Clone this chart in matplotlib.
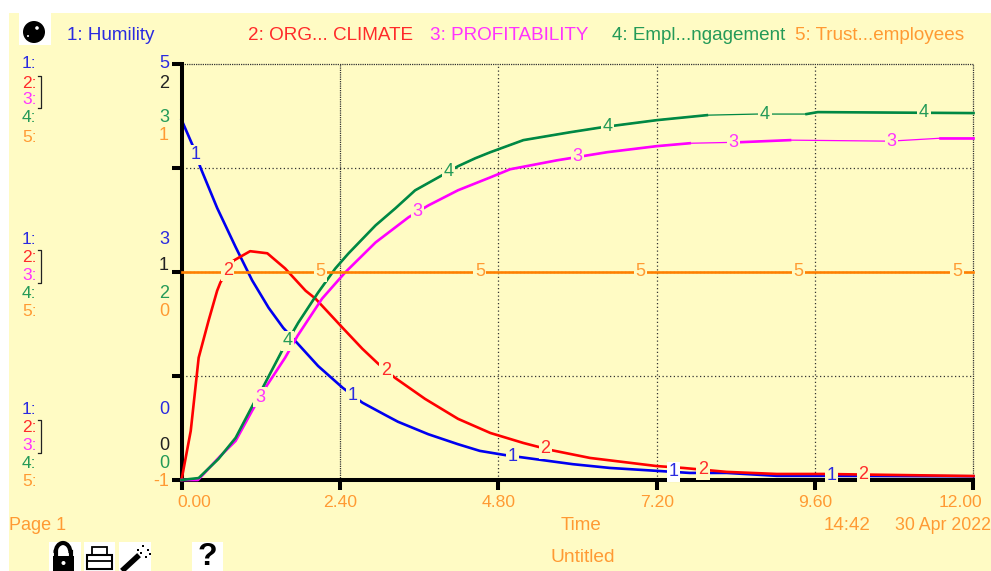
import numpy as np
import matplotlib
matplotlib.use("Agg")
import matplotlib.pyplot as plt
from matplotlib.patches import Rectangle, Circle, Arc
from matplotlib.transforms import ScaledTranslation

plt.rcParams['font.family'] = ['Liberation Sans', 'DejaVu Sans']

# values, each series on its own scale
t1 = [0, 0.17, 0.29, 0.54, 0.82, 1.07, 1.32, 1.54, 1.76, 2.07, 2.44, 2.74, 3.09, 3.28, 3.74, 4.19, 4.52, 4.90,
      5.18, 5.93, 6.49, 7.20, 7.70, 8.26, 9.02, 9.72, 12]
humility = [4.33, 4.02, 3.75, 3.27, 2.80, 2.40, 2.07, 1.83, 1.64, 1.37, 1.11, 0.93, 0.78, 0.70, 0.55, 0.43, 0.35, 0.30,
            0.27, 0.19, 0.145, 0.11, 0.085, 0.085, 0.05, 0.05, 0.045]

t2 = [0, 0.14, 0.26, 0.41, 0.54, 0.59, 0.79, 1.04, 1.30, 1.57, 1.88, 2.03, 2.44, 2.74, 2.98, 3.24, 3.69, 4.19, 4.68,
      5.18, 5.58, 6.19, 7.20, 7.60, 8.26, 9.02, 9.72, 12]
climate = [0, 0.236, 0.588, 0.766, 0.91, 0.95, 1.055, 1.10, 1.09, 1.017, 0.91, 0.872, 0.732, 0.631, 0.559, 0.49, 0.39,
           0.294, 0.226, 0.178, 0.145, 0.106, 0.067, 0.058, 0.039, 0.029, 0.029, 0.019]

t3 = [0, 0.25, 0.59, 0.82, 1.07, 1.27, 1.57, 1.76, 2.13, 2.48, 2.94, 3.44, 3.74, 4.19, 4.68, 4.98, 5.69, 6.45, 7.20,
      7.70, 8.46, 9.22, 10.73, 11.49, 12]
profit = [0, 0, 0.116, 0.188, 0.333, 0.443, 0.588, 0.694, 0.872, 0.998, 1.142, 1.263, 1.32, 1.393, 1.455, 1.494, 1.537,
          1.576, 1.605, 1.619, 1.624, 1.634, 1.629, 1.643, 1.643]

t4 = [0, 0.26, 0.56, 0.82, 1.09, 1.23, 1.54, 1.77, 2.07, 2.33, 2.53, 2.94, 3.24, 3.54, 3.95, 4.19, 4.45, 4.68, 5.18,
      5.89, 6.39, 7.20, 7.96, 8.72, 9.47, 9.64, 12]
engage = [0, 0.014, 0.152, 0.304, 0.549, 0.665, 0.947, 1.135, 1.352, 1.525, 1.634, 1.836, 1.959, 2.089, 2.198, 2.263,
          2.32, 2.364, 2.451, 2.508, 2.545, 2.595, 2.631, 2.639, 2.639, 2.653, 2.646]

t5 = [0, 12]
trust = [0, 0]

times = [t1, t2, t3, t4, t5]
series = [humility, climate, profit, engage, trust]
scale_low = [0, 0, 0, 0, -1]
scale_high = [5, 2, 2, 3, 1]

# time where each series number is written on its curve
label_times = [[0.22, 2.60, 5.02, 7.45, 9.85],
               [0.70, 3.10, 5.51, 7.90, 10.33],
               [1.19, 3.58, 6.00, 8.36, 10.76],
               [1.61, 4.05, 6.46, 8.84, 11.25],
               [2.11, 4.52, 6.95, 9.35, 11.75]]

# stretches that the simulation drew in the heavy pen (the rest is thin)
heavy = [None, None, [(0, 7.70), (8.46, 9.22), (11.49, 12)], [(0, 7.96), (9.47, 12)], None]

line_cols = ['#0000f0', '#ff0000', '#ff00ff', '#008844', '#ff8000']
text_cols = ['#2a2ae0', '#ff2a2a', '#ff33ff', '#249a58', '#ff9a33']
bg = '#fffbc4'
x_ticks = [0, 2.4, 4.8, 7.2, 9.6, 12]
legend_names = ['1: Humility', '2: ORG... CLIMATE', '3: PROFITABILITY', '4: Empl...ngagement', '5: Trust...employees']
legend_x = [67, 248, 430, 612, 795]

fig = plt.figure(figsize=(9.91, 5.71), dpi=100, facecolor='white')

# page layer in pixels: background, left column, footer, icons
page = fig.add_axes([0, 0, 1, 1], zorder=0)
page.set_xlim(0, 991)
page.set_ylim(571, 0)
page.axis('off')
page.add_patch(Rectangle((9, 13), 982, 558, color=bg, lw=0))

for name, x, col in zip(legend_names, legend_x, text_cols):
    page.text(x, 35, name, color=col, fontsize=13.6, va='center')

row_y = [[64, 83, 100, 118, 137], [239, 257, 275, 293, 311], [409, 427, 445, 463, 481]]
for rows in row_y:
    for i, y in enumerate(rows):
        page.text(22, y, f'{i + 1}:', color=text_cols[i], fontsize=12.5, va='center')
    page.plot([38, 41, 41, 38], [rows[1] - 7, rows[1] - 7, rows[2] + 8, rows[2] + 8], color='#222222', lw=0.9)

scale_text = [(64, '5', 0), (83, '2', None), (118, '3', 3), (136, '1', 4),
              (239, '3', 0), (265, '1', None), (293, '2', 3), (311, '0', 4),
              (409, '0', 0), (445, '0', None), (464, '0', 3), (481, '-1', 4)]
for y, s, idx in scale_text:
    page.text(169, y, s, color='#222222' if idx is None else text_cols[idx], fontsize=13, va='center', ha='right')

orange = text_cols[4]
page.text(9, 525, 'Page 1', color=orange, fontsize=13, va='center')
page.text(581, 525, 'Time', color=orange, fontsize=13.5, va='center', ha='center')
page.text(824, 525, '14:42', color=orange, fontsize=13.5, va='center')
page.text(991, 525, '30 Apr 2022', color=orange, fontsize=12.8, va='center', ha='right')
page.text(583, 557, 'Untitled', color=orange, fontsize=13.8, va='center', ha='center')

# toolbar icons
for x0, y0, w, h in [(19, 13, 32, 32), (49, 542, 32, 29), (84, 542, 31, 29), (119, 542, 32, 29), (192, 542, 31, 29)]:
    page.add_patch(Rectangle((x0, y0), w, h, color='white', lw=0))
page.add_patch(Circle((34, 32), 11, color='black', lw=0))
page.add_patch(Circle((37, 28), 1.8, color='white', lw=0))
page.add_patch(Circle((28, 36), 1, color='white', lw=0))
# lock
page.add_patch(Rectangle((53, 556), 21, 15, color='black', lw=0))
page.add_patch(Arc((63, 553), 15, 20, theta1=180, theta2=360, color='black', lw=3))
page.plot([55.5, 55.5], [552, 556], color='black', lw=3)
page.plot([70.5, 70.5], [552, 554], color='black', lw=3)
page.add_patch(Circle((63.5, 563), 2, color='white', lw=0))
# printer
page.add_patch(Rectangle((92, 547), 15, 8, fc='white', ec='black', lw=1.3))
page.add_patch(Rectangle((87, 555), 25, 14, fc='white', ec='black', lw=1.5))
page.plot([87, 112], [561, 561], color='black', lw=1.3)
# wand
page.plot([124, 137], [569, 557], color='black', lw=4)
for x, y in [(142, 545), (147, 549), (149, 553), (137, 549), (145, 556), (140, 552)]:
    page.add_patch(Rectangle((x, y), 2, 2, color='black', lw=0))
page.text(207.5, 557, '?', color='black', fontsize=23, fontweight='bold', va='center', ha='center')

# chart axes, one per scale
left, right, top_px, bot_px = 181.5, 973.5, 64, 480
rect = [left / 991, 1 - bot_px / 571, (right - left) / 991, (bot_px - top_px) / 571]
base = fig.add_axes(rect, zorder=1)
base.patch.set_alpha(0)
axes = [base] + [base.twinx() for _ in range(4)]

for ax, lo, hi in zip(axes, scale_low, scale_high):
    ax.set_ylim(lo, hi)
    ax.set_xlim(0, 12)
for ax in axes[1:]:
    ax.axis('off')

base.set_xticks(x_ticks)
base.set_xticklabels([f'{v:.2f}' for v in x_ticks])
base.set_yticks(np.linspace(0, 5, 5))
base.set_yticklabels([])
base.grid(True, color='#333333', linestyle=(0, (1, 2)), lw=0.9)
base.set_axisbelow(True)
# the frame lines and the 2.40 line are printed with a tighter dot
for line in [base.get_xgridlines()[1], base.get_xgridlines()[-1], base.get_ygridlines()[-1]]:
    line.set_linestyle((0, (1, 0.8)))
    line.set_clip_on(False)
base.spines['top'].set_visible(False)
base.spines['right'].set_visible(False)
base.spines['left'].set_linewidth(2.9)
base.spines['bottom'].set_linewidth(2.9)
base.tick_params(axis='both', direction='out', length=7, width=2.9, color='black')
base.tick_params(axis='x', labelcolor=orange, labelsize=12.6, pad=4)
# first and last time labels sit inside the axis ends
tick_labels = base.get_xticklabels()
tick_labels[0].set_transform(tick_labels[0].get_transform() + ScaledTranslation(0.125, 0, fig.dpi_scale_trans))
tick_labels[-1].set_transform(tick_labels[-1].get_transform() + ScaledTranslation(-0.135, 0, fig.dpi_scale_trans))

for i, ax in enumerate(axes):
    t = np.array(times[i], dtype=float)
    v = np.array(series[i], dtype=float)
    if heavy[i] is None:
        ax.plot(t, v, color=line_cols[i], lw=1.9, clip_on=False)
    else:
        ax.plot(t, v, color=line_cols[i], lw=0.9, clip_on=False)
        for a, b in heavy[i]:
            keep = (t >= a) & (t <= b)
            ax.plot(t[keep], v[keep], color=line_cols[i], lw=1.9, clip_on=False)

# series numbers go on top of every line and blank out what is under them
top_ax = axes[-1]
for i, ax in enumerate(axes):
    for n, lt in enumerate(label_times[i]):
        lv = np.interp(lt, times[i], series[i])
        box = 'white' if (i == 0 and n == 3) else bg
        top_ax.text(lt, lv, str(i + 1), transform=ax.transData, color=text_cols[i], fontsize=13,
                    ha='center', va='center', zorder=10, clip_on=False,
                    bbox=dict(facecolor=box, edgecolor='none', pad=1.2))

fig.savefig('out.png', dpi=100)
